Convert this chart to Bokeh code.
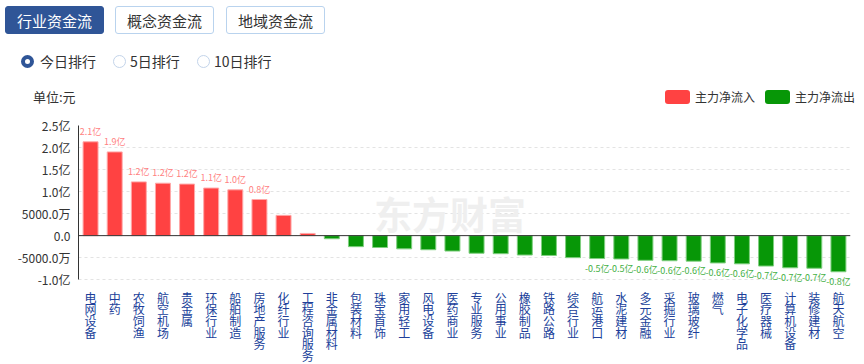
from bokeh.plotting import figure
from bokeh.models import ColumnDataSource, FactorRange, Range1d, FixedTicker, LabelSet, Label, Span, Div
from bokeh.core.properties import value
from bokeh.layouts import column
from bokeh.embed import file_html
from bokeh.resources import INLINE

# ---------------- data ----------------
categories = ["电网设备", "中药", "农牧饲渔", "航空机场", "贵金属", "环保行业", "船舶制造", "房地产服务",
              "化纤行业", "工程咨询服务", "非金属材料", "包装材料", "珠宝首饰", "家用轻工", "风电设备", "医药商业",
              "专业服务", "公用事业", "橡胶制品", "铁路公路", "综合行业", "航运港口", "水泥建材", "多元金融",
              "采掘行业", "玻璃玻纤", "燃气", "电子化学品", "医疗器械", "计算机设备", "装修建材", "航天航空"]
net_flow = [2.13, 1.90, 1.22, 1.19, 1.17, 1.08, 1.04, 0.82,
            0.46, 0.05, -0.07, -0.25, -0.27, -0.30, -0.32, -0.35,
            -0.40, -0.41, -0.44, -0.45, -0.50, -0.52, -0.53, -0.56,
            -0.57, -0.58, -0.62, -0.64, -0.69, -0.73, -0.74, -0.82]  # 亿元
show_value = [True] * 8 + [False] * 13 + [True] * 11
y_ticks = [-1, -0.5, 0, 0.5, 1, 1.5, 2, 2.5]
y_tick_labels = ["-1.0亿", "-5000.0万", "0.0", "5000.0万", "1.0亿", "1.5亿", "2.0亿", "2.5亿"]
tabs = ["行业资金流", "概念资金流", "地域资金流"]
ranks = ["今日排行", "5日排行", "10日排行"]
legend_labels = ["主力净流入", "主力净流出"]
unit_label = "单位:元"
watermark = "东方财富"

FONT = "Noto Sans CJK SC"
RED, RED_LINE, RED_TXT = "#ff4242", "#ffa8a8", "#ff7f7f"
GREEN, GREEN_LINE, GREEN_TXT = "#079707", "#7fcf7f", "#44b044"
BLUE = "#2f5597"
LABEL_BLUE = "#203f9a"
CHAR_STEP = 11.7  # px between stacked characters of a category label

# ---------------- header (tabs, radio, unit, legend) ----------------
css_font = "'Noto Sans CJK SC','Noto Sans',sans-serif"
tab_left = [5, 115, 226]
radio_cx = [27, 119, 203]
radio_text_x = [40, 130, 214]
html = f'<div style="position:relative;width:864px;height:113px;font-family:{css_font};color:#333;">'
for i, t in enumerate(tabs):
    sel = i == 0
    html += (f'<div style="position:absolute;left:{tab_left[i]}px;top:6px;width:99px;height:28px;'
             f'border:1px solid {BLUE if sel else "#b9d3ee"};border-radius:3px;'
             f'background:{BLUE if sel else "#ffffff"};color:{"#ffffff" if sel else "#333333"};'
             f'font-size:15px;line-height:28px;text-align:center;">{t}</div>')
for i, t in enumerate(ranks):
    sel = i == 0
    html += (f'<div style="position:absolute;left:{radio_cx[i] - 6.5}px;top:{61 - 6.5}px;width:13px;height:13px;'
             f'box-sizing:border-box;border-radius:50%;background:#fff;'
             f'border:{"4px solid " + BLUE if sel else "1px solid #c3d4ea"};"></div>')
    html += (f'<div style="position:absolute;left:{radio_text_x[i]}px;top:51px;height:20px;line-height:20px;'
             f'font-size:14px;color:#333;">{t}</div>')
html += (f'<div style="position:absolute;left:33px;top:87px;height:20px;line-height:20px;font-size:13px;'
         f'color:#333;">{unit_label}</div>')
leg_x = [665, 765]
leg_col = [RED, GREEN]
for i, t in enumerate(legend_labels):
    html += (f'<div style="position:absolute;left:{leg_x[i]}px;top:90px;width:25px;height:14px;'
             f'border-radius:3px;background:{leg_col[i]};"></div>')
    html += (f'<div style="position:absolute;left:{leg_x[i] + 30}px;top:87px;height:20px;line-height:20px;'
             f'font-size:12px;color:#333;">{t}</div>')
html += '</div>'
header = Div(text=html, width=864, height=113, margin=0)

# ---------------- chart ----------------
colors = [RED if v >= 0 else GREEN for v in net_flow]
line_colors = [RED_LINE if v >= 0 else GREEN_LINE for v in net_flow]
src = ColumnDataSource(dict(cat=categories, val=net_flow, color=colors, lc=line_colors))

x_range = FactorRange(*categories, range_padding=0)
p = figure(x_range=x_range, y_range=Range1d(-1.2, 2.5),
           width=864, height=175, output_backend="svg", toolbar_location=None,
           min_border_top=12, min_border_bottom=0, min_border_left=78, min_border_right=14)
p.outline_line_color = None
p.background_fill_color = "#ffffff"
p.border_fill_color = "#ffffff"

p.vbar(x="cat", top="val", bottom=0, width=0.62, source=src, fill_color="color",
       line_color="lc", line_width=1)

p.xaxis.visible = False
p.xgrid.visible = False

# y axis
yax = p.yaxis[0]
yax.ticker = FixedTicker(ticks=y_ticks)
yax.bounds = (min(y_ticks), max(y_ticks))
yax.major_label_overrides = {t: l for t, l in zip(y_ticks, y_tick_labels)}
yax.axis_line_color = "#333333"
yax.major_tick_line_color = None
yax.minor_tick_line_color = None
yax.major_tick_out = 0
yax.major_tick_in = 0
yax.major_label_standoff = 8
yax.major_label_text_font = FONT
yax.major_label_text_font_size = "12px"
yax.major_label_text_color = "#333333"
p.ygrid.grid_line_color = "#e3e3e3"
p.ygrid.grid_line_dash = "3 3"
p.ygrid.ticker = FixedTicker(ticks=y_ticks)

p.add_layout(Span(location=0, dimension="width", line_color="#333333", line_width=1))

# watermark
p.add_layout(Label(x=12.25, y=0.53, text=watermark, text_font=FONT, text_font_size="38px",
                   text_font_style="bold", text_color="#efefef", text_baseline="middle", level="underlay"))

# value labels
pos_idx = [i for i, v in enumerate(net_flow) if v >= 0 and show_value[i]]
neg_idx = [i for i, v in enumerate(net_flow) if v < 0 and show_value[i]]
pos_src = ColumnDataSource(dict(cat=[categories[i] for i in pos_idx], val=[net_flow[i] for i in pos_idx],
                                txt=[f"{net_flow[i]:.1f}亿" for i in pos_idx]))
neg_src = ColumnDataSource(dict(cat=[categories[i] for i in neg_idx], val=[net_flow[i] for i in neg_idx],
                                txt=[f"{net_flow[i]:.1f}亿" for i in neg_idx]))
p.add_layout(LabelSet(x="cat", y="val", text="txt", source=pos_src, y_offset=4, text_align="center",
                      text_baseline="bottom", text_font=value(FONT), text_font_size="9px", text_color=RED_TXT))
p.add_layout(LabelSet(x="cat", y="val", text="txt", source=neg_src, y_offset=-3, text_align="center",
                      text_baseline="top", text_font=value(FONT), text_font_size="9px", text_color=GREEN_TXT))

# ---------------- category labels (stacked vertical characters) ----------------
cx, cy, ch = [], [], []
for c in categories:
    for j, chr_ in enumerate(c):
        cx.append(c)
        cy.append(-(CHAR_STEP * j))
        ch.append(chr_)
lab_src = ColumnDataSource(dict(x=cx, y=cy, t=ch))
q = figure(x_range=x_range, y_range=Range1d(-76, 0), width=864, height=76,
           output_backend="svg", toolbar_location=None,
           min_border_top=0, min_border_bottom=0, min_border_left=78, min_border_right=14)
q.outline_line_color = None
q.axis.visible = False
q.grid.visible = False
q.text(x="x", y="y", text="t", source=lab_src, text_align="center", text_baseline="top",
       text_font=value(FONT), text_font_size="12px", text_color=LABEL_BLUE)

layout = column(header, p, q, spacing=0)
open("out.html", "w").write(file_html(layout, INLINE))
